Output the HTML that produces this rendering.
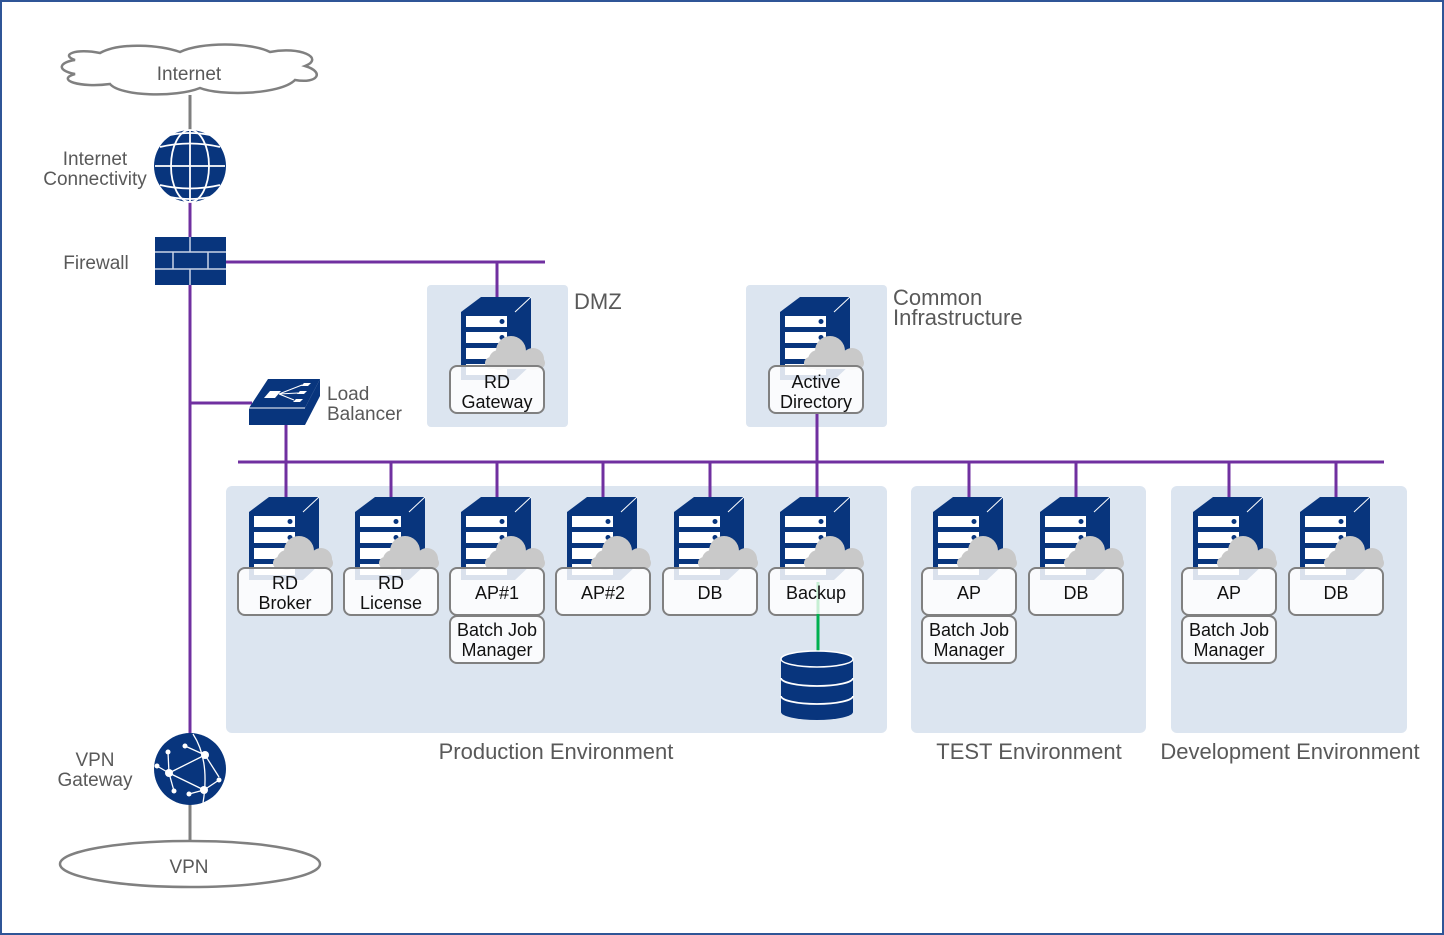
<!DOCTYPE html>
<html><head><meta charset="utf-8">
<style>
html,body{margin:0;padding:0;background:#fff;}
svg{display:block;}
text{font-family:"Liberation Sans",sans-serif;}
.g{fill:#595959;font-size:19px;}
.b{fill:#111;font-size:18px;text-anchor:middle;}
.e{fill:#595959;font-size:22px;}
</style></head><body>
<svg width="1444" height="935" viewBox="0 0 1444 935" xmlns="http://www.w3.org/2000/svg">
<defs>
<g id="srv">
  <polygon points="-36,15 -16,0 34,0 18,15" fill="#08357d"/>
  <polygon points="18,15 34,0 34,68 18,83" fill="#08357d"/>
  <line x1="18" y1="15" x2="34" y2="0" stroke="#fff" stroke-width="1"/>
  <rect x="-36" y="15" width="54" height="68" fill="#08357d"/>
  <rect x="-31" y="19" width="41" height="11" fill="#fff"/>
  <rect x="-31" y="35" width="41" height="11" fill="#fff"/>
  <rect x="-31" y="51" width="41" height="11" fill="#fff"/>
  <rect x="-31" y="67" width="41" height="11" fill="#fff"/>
  <circle cx="5" cy="24.5" r="2.5" fill="#08357d"/>
  <circle cx="5" cy="40.5" r="2.5" fill="#08357d"/>
  <circle cx="5" cy="56.5" r="2.5" fill="#08357d"/>
  <g fill="#c9c9c9">
    <circle cx="14" cy="54" r="15"/>
    <circle cx="36" cy="62" r="11"/>
    <circle cx="2" cy="63" r="10"/>
    <rect x="-12" y="60" width="60" height="12" rx="6"/>
  </g>
</g>
<g id="lbl"><rect x="-47" y="0" width="94" height="47" rx="7" fill="#fff" fill-opacity="0.85" stroke="#808080" stroke-width="2"/></g>
</defs>

<rect x="1" y="1" width="1442" height="933" fill="#fff" stroke="#2f5597" stroke-width="2"/>

<g fill="#dce5f0">
<rect x="427" y="285" width="141" height="142" rx="4"/>
<rect x="746" y="285" width="141" height="142" rx="4"/>
<rect x="226" y="486" width="661" height="247" rx="6"/>
<rect x="911" y="486" width="235" height="247" rx="6"/>
<rect x="1171" y="486" width="236" height="247" rx="6"/>
</g>

<line x1="190" y1="95" x2="190" y2="132" stroke="#7f7f7f" stroke-width="3"/>
<line x1="190" y1="803" x2="190" y2="842" stroke="#7f7f7f" stroke-width="3"/>

<g stroke="#7030a0" stroke-width="3" fill="none">
<line x1="190" y1="200" x2="190" y2="736"/>
<line x1="226" y1="262" x2="545" y2="262"/>
<line x1="497" y1="262" x2="497" y2="298"/>
<line x1="190" y1="403" x2="252" y2="403"/>
<line x1="286" y1="424" x2="286" y2="498"/>
<line x1="238" y1="462" x2="1384" y2="462"/>
<line x1="391" y1="462" x2="391" y2="498"/>
<line x1="497" y1="462" x2="497" y2="498"/>
<line x1="603" y1="462" x2="603" y2="498"/>
<line x1="710" y1="462" x2="710" y2="498"/>
<line x1="817" y1="413" x2="817" y2="498"/>
<line x1="969" y1="462" x2="969" y2="498"/>
<line x1="1076" y1="462" x2="1076" y2="498"/>
<line x1="1229" y1="462" x2="1229" y2="498"/>
<line x1="1336" y1="462" x2="1336" y2="498"/>
</g>

<path d="M75,60 C60,55 75,48 100,53 C120,42 160,45 180,52 C200,42 250,42 270,52 C300,46 325,58 305,66 C325,72 318,84 295,80 C280,95 220,96 200,88 C175,98 120,96 110,84 C80,88 55,80 75,74 C55,70 60,62 75,60 Z" fill="#fff" stroke="#808080" stroke-width="2.5"/>
<text x="189" y="80" class="g" text-anchor="middle">Internet</text>

<g>
<circle cx="190" cy="166" r="36" fill="#08357d"/>
<g stroke="#fff" stroke-width="1.8" fill="none">
<line x1="190" y1="130" x2="190" y2="202"/>
<ellipse cx="190" cy="166" rx="19" ry="36"/>
<line x1="155" y1="166" x2="225" y2="166"/>
<path d="M160,147 Q190,140 220,147"/>
<path d="M160,185 Q190,192 220,185"/>
<path d="M170,135 Q190,131 210,135"/>
<path d="M170,197 Q190,201 210,197"/>
</g>
</g>
<text x="95" y="165" class="g" text-anchor="middle">Internet</text>
<text x="95" y="185" class="g" text-anchor="middle">Connectivity</text>

<rect x="155" y="237" width="71" height="48" fill="#08357d"/>
<g stroke="#c9d3e6" stroke-width="1.5">
<line x1="155" y1="252" x2="226" y2="252"/>
<line x1="155" y1="269" x2="226" y2="269"/>
<line x1="190" y1="237" x2="190" y2="252"/>
<line x1="173" y1="252" x2="173" y2="269"/>
<line x1="208" y1="252" x2="208" y2="269"/>
<line x1="190" y1="269" x2="190" y2="285"/>
</g>
<text x="96" y="269" class="g" text-anchor="middle">Firewall</text>

<polygon points="249,408 268,379 320,379 305,408" fill="#08357d"/>
<polygon points="305,408 320,379 320,396 305,425" fill="#08357d"/>
<rect x="249" y="408" width="56" height="17" fill="#08357d"/>
<line x1="249" y1="408" x2="305" y2="408" stroke="#fff" stroke-width="1"/>
<g fill="#fff">
<polygon points="264,398 270,391 281,391 275,398"/>
<polygon points="301,386 304,383 311,383 308,386"/>
<polygon points="297,394 300,391 307,391 304,394"/>
<polygon points="293,402 296,399 303,399 300,402"/>
</g>
<g stroke="#fff" stroke-width="1"><line x1="279" y1="394" x2="302" y2="385"/><line x1="279" y1="394" x2="298" y2="393"/><line x1="279" y1="394" x2="294" y2="400"/></g>
<text x="327" y="400" class="g">Load</text>
<text x="327" y="420" class="g">Balancer</text>

<use href="#srv" x="497" y="297"/>
<use href="#lbl" x="497" y="366"/>
<text x="497" y="388" class="b">RD</text>
<text x="497" y="408" class="b">Gateway</text>
<text x="574" y="309" class="e">DMZ</text>

<use href="#srv" x="816" y="297"/>
<use href="#lbl" x="816" y="366"/>
<text x="816" y="388" class="b">Active</text>
<text x="816" y="408" class="b">Directory</text>
<text x="893" y="305" class="e">Common</text>
<text x="893" y="325" class="e">Infrastructure</text>

<use href="#srv" x="285" y="497"/><use href="#lbl" x="285" y="568"/>
<text x="285" y="589" class="b">RD</text><text x="285" y="609" class="b">Broker</text>
<use href="#srv" x="391" y="497"/><use href="#lbl" x="391" y="568"/>
<text x="391" y="589" class="b">RD</text><text x="391" y="609" class="b">License</text>
<use href="#srv" x="497" y="497"/><use href="#lbl" x="497" y="568"/>
<text x="497" y="599" class="b">AP#1</text>
<use href="#lbl" x="497" y="616"/>
<text x="497" y="636" class="b">Batch Job</text><text x="497" y="656" class="b">Manager</text>
<use href="#srv" x="603" y="497"/><use href="#lbl" x="603" y="568"/>
<text x="603" y="599" class="b">AP#2</text>
<use href="#srv" x="710" y="497"/><use href="#lbl" x="710" y="568"/>
<text x="710" y="599" class="b">DB</text>
<use href="#srv" x="816" y="497"/><use href="#lbl" x="816" y="568"/>
<line x1="818" y1="582" x2="818" y2="652" stroke="#00b050" stroke-width="3"/>
<line x1="818" y1="582" x2="818" y2="614" stroke="#c6efd4" stroke-width="3"/>
<text x="816" y="599" class="b">Backup</text>

<g>
<path d="M781,659 L781,712 A36,8 0 0 0 853,712 L853,659 Z" fill="#08357d"/>
<ellipse cx="817" cy="659" rx="36" ry="8" fill="#08357d" stroke="#fff" stroke-width="1.5"/>
<path d="M781,678 A36,8 0 0 0 853,678" fill="none" stroke="#fff" stroke-width="1.8"/>
<path d="M781,696 A36,8 0 0 0 853,696" fill="none" stroke="#fff" stroke-width="1.8"/>
</g>

<use href="#srv" x="969" y="497"/><use href="#lbl" x="969" y="568"/>
<text x="969" y="599" class="b">AP</text>
<use href="#lbl" x="969" y="616"/>
<text x="969" y="636" class="b">Batch Job</text><text x="969" y="656" class="b">Manager</text>
<use href="#srv" x="1076" y="497"/><use href="#lbl" x="1076" y="568"/>
<text x="1076" y="599" class="b">DB</text>

<use href="#srv" x="1229" y="497"/><use href="#lbl" x="1229" y="568"/>
<text x="1229" y="599" class="b">AP</text>
<use href="#lbl" x="1229" y="616"/>
<text x="1229" y="636" class="b">Batch Job</text><text x="1229" y="656" class="b">Manager</text>
<use href="#srv" x="1336" y="497"/><use href="#lbl" x="1336" y="568"/>
<text x="1336" y="599" class="b">DB</text>

<text x="556" y="759" class="e" text-anchor="middle">Production Environment</text>
<text x="1029" y="759" class="e" text-anchor="middle">TEST Environment</text>
<text x="1290" y="759" class="e" text-anchor="middle">Development Environment</text>

<circle cx="190" cy="769" r="36" fill="#08357d"/>
<g stroke="#fff" stroke-width="1.3" fill="none">
<line x1="169" y1="773" x2="205" y2="755"/>
<line x1="169" y1="773" x2="204" y2="790"/>
<line x1="169" y1="773" x2="168" y2="752"/>
<line x1="169" y1="773" x2="157" y2="766"/>
<line x1="169" y1="773" x2="174" y2="791"/>
<line x1="205" y1="755" x2="185" y2="746"/>
<line x1="205" y1="755" x2="219" y2="777"/>
<line x1="204" y1="790" x2="219" y2="780"/>
<line x1="204" y1="790" x2="189" y2="794"/>
<path d="M193,734 Q210,760 203,803"/>
</g>
<g fill="#fff">
<circle cx="169" cy="773" r="4"/><circle cx="205" cy="755" r="4"/><circle cx="204" cy="790" r="4"/>
<circle cx="168" cy="752" r="2.5"/><circle cx="185" cy="746" r="2.5"/><circle cx="219" cy="780" r="2.5"/>
<circle cx="174" cy="791" r="2.5"/><circle cx="189" cy="794" r="2.5"/><circle cx="157" cy="766" r="2.5"/>
</g>
<text x="95" y="766" class="g" text-anchor="middle">VPN</text>
<text x="95" y="786" class="g" text-anchor="middle">Gateway</text>

<ellipse cx="190" cy="864" rx="130" ry="23" fill="#fff" stroke="#808080" stroke-width="2.5"/>
<text x="189" y="873" class="g" text-anchor="middle">VPN</text>
</svg>
</body></html>
